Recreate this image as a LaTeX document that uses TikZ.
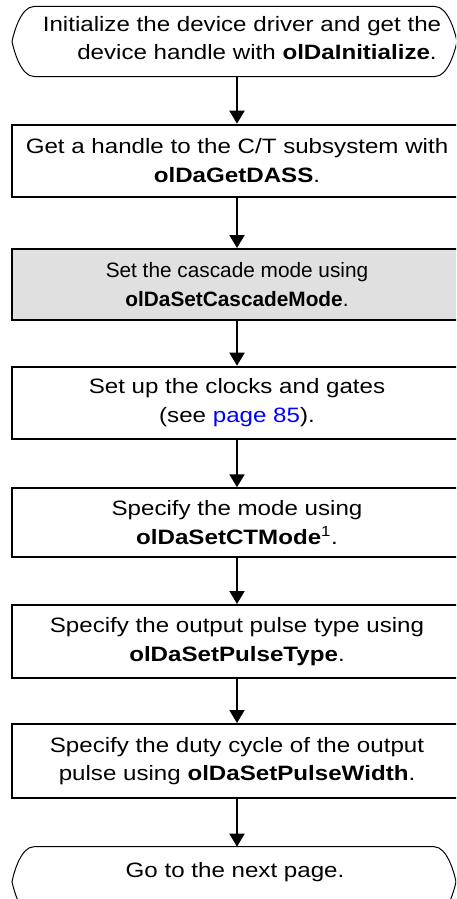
\documentclass[tikz,border=0pt]{standalone}
\usepackage{fontspec}
\setmainfont{Liberation Sans}
\newfontfamily\widefont[FakeStretch=1.16]{Liberation Sans}
\usetikzlibrary{arrows.meta}
\definecolor{boxgray}{gray}{0.88}
\definecolor{linkblue}{rgb}{0,0,1}
\begin{document}
\begin{tikzpicture}[x=1pt,y=-1pt,
  txt/.style={font=\widefont\fontsize{20.8}{28.5}\selectfont, align=center, inner sep=0pt},
  plaintxt/.style={font=\normalfont\fontsize{20.8}{28.5}\selectfont},
  stepbox/.style={txt, draw, line width=2pt, minimum width=450pt, anchor=center},
  flow/.style={line width=2pt, -{Triangle[width=15pt,length=13pt]}},
  term/.style={line width=1pt}
]
\useasboundingbox (0,0) rectangle (456,899);
\clip (0,0) rectangle (456,899);

% start terminal
\draw[term] (34,6.5) -- (435,6.5) .. controls (448,6.5) and (455,32) .. (457,41.5)
  .. controls (455,51) and (448,76.5) .. (435,76.5) -- (34,76.5)
  .. controls (21,76.5) and (14,51) .. (12,41.5)
  .. controls (14,32) and (21,6.5) .. (34,6.5) -- cycle;
\node[txt] (t1) at (242,38.3) {Initialize the device driver and get the\\\hspace*{30pt}device handle with \textbf{olDaInitialize}.};
\coordinate (t1s) at (237,76.5);

\node[stepbox, minimum height=72pt] (b2) at (237,160.7) {Get a handle to the C/T subsystem with\\\textbf{olDaGetDASS}.};
\node[stepbox, plaintxt, minimum height=71pt, fill=boxgray] (b3) at (237,284.5) {Set the cascade mode using\\\textbf{olDaSetCascadeMode}.};
\node[stepbox, minimum height=72pt] (b4) at (237,402.7) {Set up the clocks and gates\\(see \textcolor{linkblue}{page 85}).};
\node[stepbox, minimum height=68.5pt] (b5) at (237,522.5) {Specify the mode using\\\textbf{olDaSetCTMode}\textsuperscript{1}.};
\node[stepbox, minimum height=73pt] (b6) at (237,641.5) {Specify the output pulse type using\\\textbf{olDaSetPulseType}.};
\node[stepbox, minimum height=74pt] (b7) at (237,761) {Specify the duty cycle of the output\\pulse using \textbf{olDaSetPulseWidth}.};

% end terminal
\draw[term] (34,846.7) -- (434,846.7) .. controls (447,846.7) and (454,872) .. (456,881.7)
  .. controls (454,891) and (447,916.7) .. (434,916.7) -- (34,916.7)
  .. controls (21,916.7) and (14,891) .. (12,881.7)
  .. controls (14,872) and (21,846.7) .. (34,846.7) -- cycle;
\node[txt, anchor=base] (t2) at (235,877) {Go to the next page.};
\coordinate (t2n) at (237,846.7);

\draw[flow] (t1s) -- (b2.north);
\draw[flow] (b2.south) -- (b3.north);
\draw[flow] (b3.south) -- (b4.north);
\draw[flow] (b4.south) -- (b5.north);
\draw[flow] (b5.south) -- (b6.north);
\draw[flow] (b6.south) -- (b7.north);
\draw[flow] (b7.south) -- (t2n);
\end{tikzpicture}
\end{document}
